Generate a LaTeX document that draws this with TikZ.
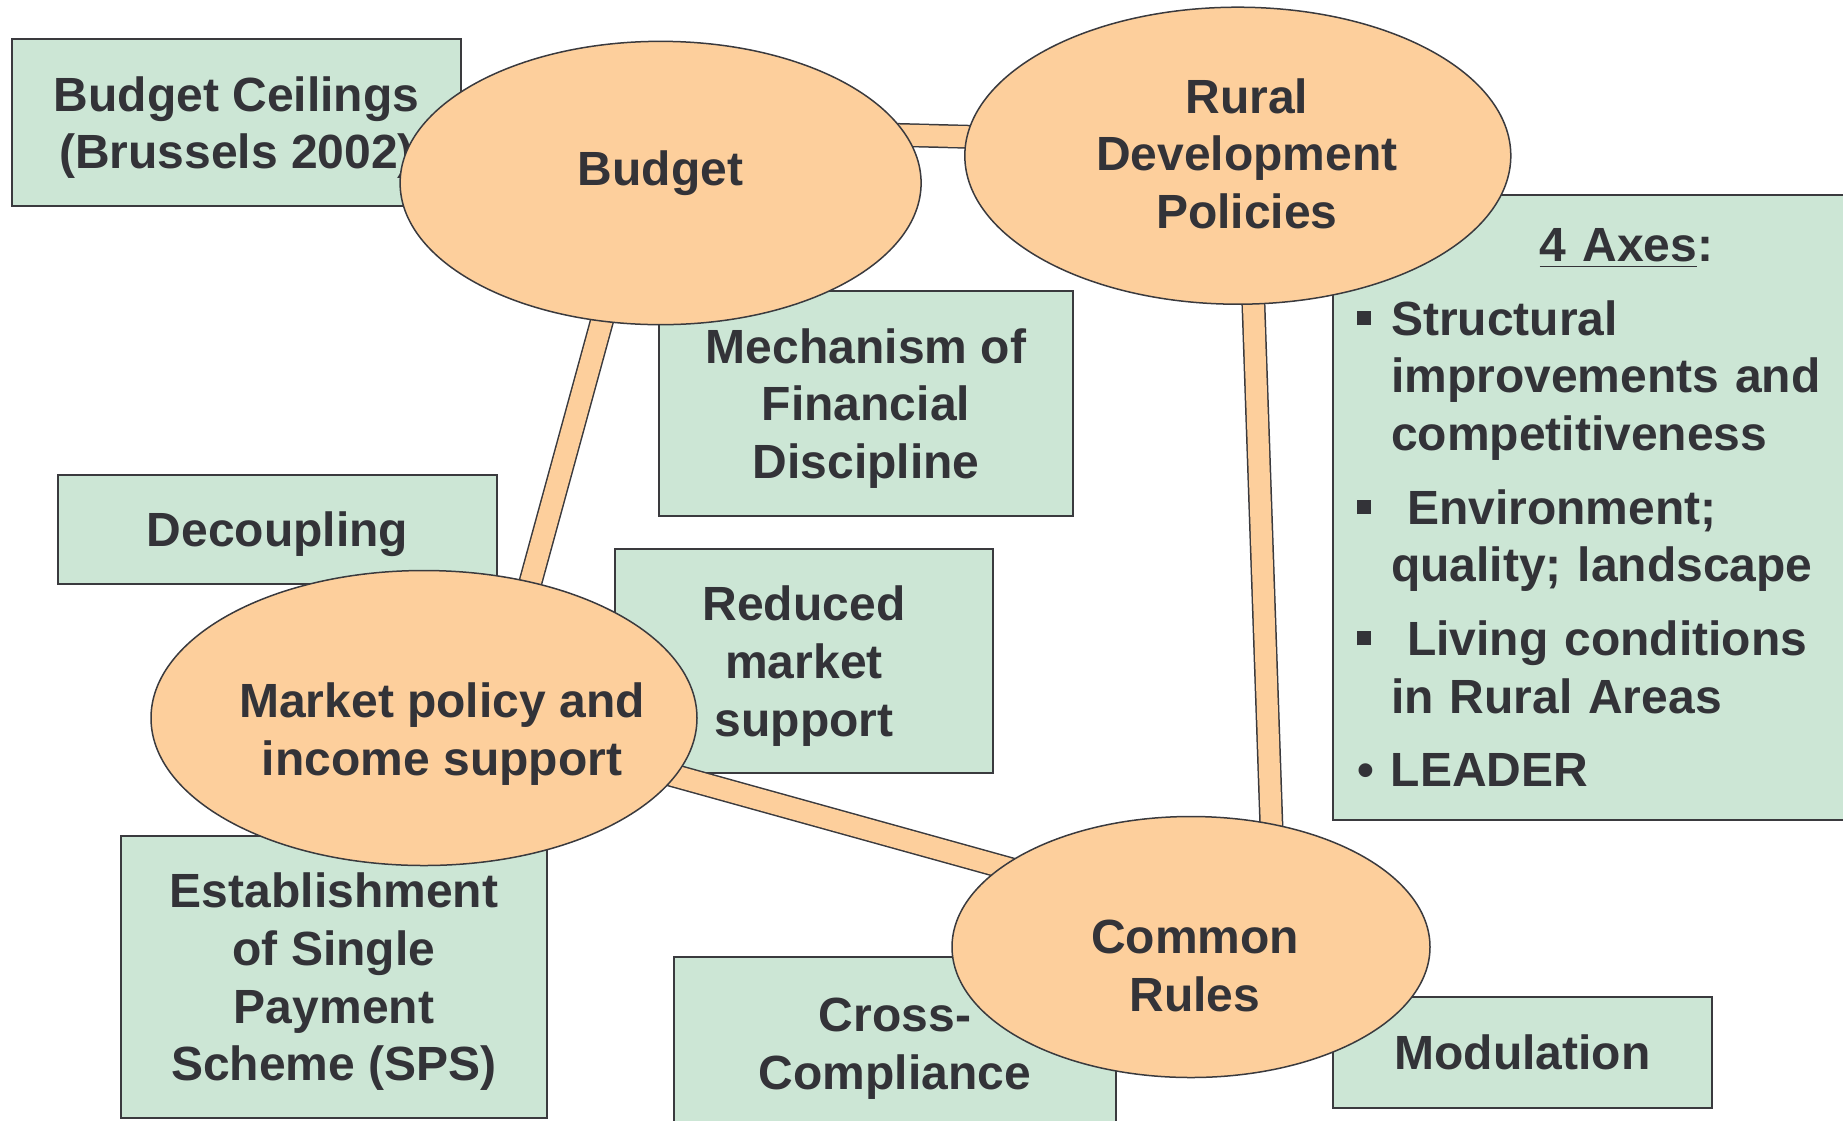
\documentclass[tikz,border=0pt]{standalone}
\usepackage{fontspec}
\setmainfont{Liberation Sans}
\usepackage{tikz}
\usetikzlibrary{positioning, shapes.geometric}

\definecolor{boxgreen}{HTML}{CCE6D5}
\definecolor{peach}{HTML}{FDCF9C}
\definecolor{linegray}{HTML}{3A3A3E}
\definecolor{textgray}{HTML}{333338}

\pgfdeclarelayer{boxlayer}
\pgfdeclarelayer{barlayer}
\pgfsetlayers{boxlayer,barlayer,main}

\tikzset{
  every node/.style={font=\fontsize{14.4}{17.3}\selectfont\bfseries, text=textgray},
  infobox/.style={draw=linegray, line width=0.6pt, fill=boxgreen, align=center, inner sep=0pt},
  notebox/.style={infobox, text depth=0pt},
  topic/.style={ellipse, draw=linegray, line width=0.45pt, fill=peach, inner sep=0pt},
  topictext/.style={align=center, inner sep=0pt, text depth=0pt},
  bar/.style={draw=linegray, line width=0.45pt, double=peach, double distance=6.3pt,
    shorten <=-8pt, shorten >=-8pt}
}

\newcommand{\sqbullet}{\makebox[10.2pt][l]{\raisebox{3pt}{\rule{4.2pt}{4.2pt}}}}
\newcommand{\rdbullet}{\makebox[10.2pt][l]{\textbullet}}
\newcommand{\contline}{\hspace*{10.2pt}}

\begin{document}
\begin{tikzpicture}[x=0.3pt, y=-0.3pt]
    \useasboundingbox (0,0) rectangle (1843,1120);

    % Define boxes
    \begin{pgfonlayer}{boxlayer}
    \node[notebox, minimum width=134.7pt, minimum height=50.1pt] (ceilings) at (236.5,122.5) {Budget Ceilings\\(Brussels 2002)};
    \node[notebox, minimum width=124.2pt, minimum height=67.5pt] (discipline) at (866,403.5) {Mechanism of\\Financial\\Discipline};
    \node[notebox, minimum width=131.7pt, minimum height=32.7pt] (decoupling) at (277.5,529.5) {Decoupling};
    \node[notebox, minimum width=113.4pt, minimum height=67.2pt] (reduced) at (804,661) {Reduced\\market\\support};
    \node[notebox, minimum width=127.8pt, minimum height=84.6pt] (sps) at (334,977) {Establishment\\of Single\\Payment\\Scheme (SPS)};
    \node[notebox, minimum width=132.6pt, minimum height=51.9pt] (cross) at (895,1043.5) {Cross-\\Compliance};
    \node[notebox, minimum width=113.7pt, minimum height=33.3pt] (modulation) at (1522.5,1052.5) {Modulation};
    \node[infobox, anchor=north west, align=left, text width=144pt, inner xsep=7.2pt,
          minimum height=187.5pt] (axes) at (1332,194) {%
      \hspace*{54.8pt}\underline{4 Axes}:\\[4.8pt]
      \sqbullet Structural\\
      \contline improvements and\\
      \contline competitiveness\\[4.8pt]
      \sqbullet\ Environment;\\
      \contline quality; landscape\\[4.8pt]
      \sqbullet\ Living conditions\\
      \contline in Rural Areas\\[4.8pt]
      \rdbullet LEADER};
    \end{pgfonlayer}

    % Define topics
    \node[topic, minimum width=156.3pt, minimum height=85pt] (budget) at (660.6,183) {};
    \node[topic, minimum width=163.8pt, minimum height=89.1pt] (rural) at (1237.8,155.7) {};
    \node[topic, minimum width=163.8pt, minimum height=88.5pt] (market) at (424,718) {};
    \node[topic, minimum width=143.4pt, minimum height=78.3pt] (common) at (1191,947) {};

    \node[topictext] (budgettext) at ([yshift=4.5pt]budget.center) {Budget};
    \node[topictext] (ruraltext) at ([xshift=2.7pt, yshift=0.7pt]rural.center) {Rural\\Development\\Policies};
    \node[topictext] (markettext) at ([xshift=5.4pt, yshift=-3.3pt]market.center) {Market policy and\\income support};
    \node[topictext] (commontext) at ([xshift=1.2pt, yshift=-5.6pt]common.center) {Common\\Rules};

    % Draw bars
    \begin{pgfonlayer}{barlayer}
    \draw[bar] (budget.11.5) -- (rural.176.4);
    \draw[bar] (budget.247.6) -- (market.52.6);
    \draw[bar] (rural.276.5) -- (common.57.1);
    \draw[bar] (market.347.5) -- (common.157.3);
    \end{pgfonlayer}
\end{tikzpicture}
\end{document}
